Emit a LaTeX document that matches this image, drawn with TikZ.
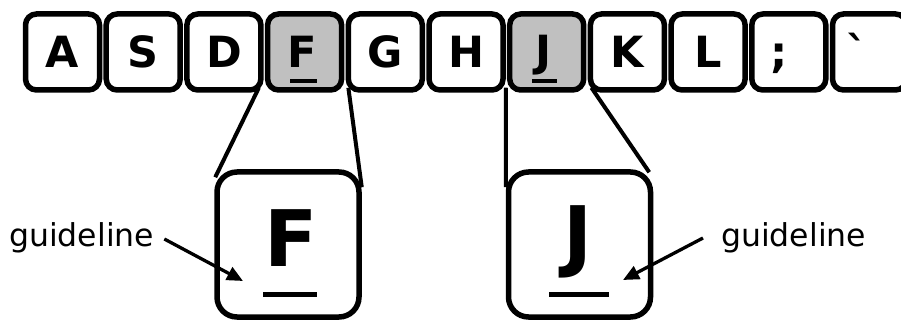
\documentclass[tikz,border=0pt]{standalone}
\usepackage{fontspec}
\setmainfont{DejaVu Sans}
\newfontfamily\keyfont{DejaVu Sans Bold}
\usetikzlibrary{arrows.meta,calc}
\definecolor{keygray}{HTML}{C0C0C0}
\begin{document}
\begin{tikzpicture}[x=1pt,y=-1pt,
  key/.style={draw,line width=5.5pt,rounded corners=11pt,minimum width=74pt,minimum height=76pt,inner sep=0pt,fill=white},
  bigkey/.style={draw,line width=5.5pt,rounded corners=20pt,minimum width=142pt,minimum height=145pt,inner sep=0pt,fill=white},
  letter/.style={anchor=base,inner sep=0pt,font=\keyfont\fontsize{43}{43}\selectfont},
  bigletter/.style={anchor=base,inner sep=0pt,font=\keyfont\fontsize{78}{78}\selectfont},
  link/.style={line width=4pt},
  guide/.style={fill=black,draw=none},
  note/.style={anchor=base west,inner sep=0pt,font=\fontsize{31.5}{31.5}\selectfont},
  pointer/.style={line width=3.3pt,-{Triangle[length=16pt,width=14pt]}}
]
\useasboundingbox (0,0) rectangle (901,320);
\begin{scope}
\clip (0,0) rectangle (901,320);
\path (143.2,52) coordinate (cS) (223.9,52) coordinate (cD)
      (304.6,52) coordinate (cF) (385.3,52) coordinate (cG)
      (466,52) coordinate (cH) (546.7,52) coordinate (cJ)
      (627.4,52) coordinate (cK) (708.1,52) coordinate (cL)
      (788.8,52) coordinate (cSemi) (869.5,52) coordinate (cGrave);
\node[bigkey,draw=none,fill=none] (bF) at (288,244.5) {};
\node[bigkey,draw=none,fill=none] (bJ) at (579.5,244.5) {};
\node[key,draw=none,fill=none] (kF) at (cF) {};
\node[key,draw=none,fill=none] (kJ) at (cJ) {};
% connecting lines (behind keys)
\draw[link] ($(kF.south west)+(-6,-5)$) -- ($(bF.north west)+(1,8)$);
\draw[link] ($(kF.south east)+(4,-5)$) -- ($(bF.north east)+(0,18)$);
\draw[link] ($(kJ.south west)+(-1,-5)$) -- ($(bJ.north west)+(0,18)$);
\draw[link] ($(kJ.south east)+(5,-5)$) -- ($(bJ.north east)+(-4,3)$);
% keys
\node[key] (kA) at (62.5,52) {};
\node[key] (kS) at (cS) {};
\node[key] (kD) at (cD) {};
\node[key,fill=keygray] (kF2) at (cF) {};
\node[key] (kG) at (cG) {};
\node[key] (kH) at (cH) {};
\node[key,fill=keygray] (kJ2) at (cJ) {};
\node[key] (kK) at (cK) {};
\node[key] (kL) at (cL) {};
\node[key] (kSemi) at (cSemi) {};
\node[key] (kGrave) at (cGrave) {};
\node[letter] (tA) at (62.5,68) {A};
\node[letter] (tS) at (143.2,68) {S};
\node[letter] (tD) at (223.9,68) {D};
\node[letter] (tF) at (302,68) {F};
\node[letter] (tG) at (385.3,68) {G};
\node[letter] (tH) at (466,68) {H};
\node[letter] (tJ) at (543,67) {J};
\node[letter] (tK) at (627.4,68) {K};
\node[letter] (tL) at (708.1,68) {L};
\node[letter] (tSemi) at (779,68) {;};
\node[letter] (tGrave) at (857,68) {\symbol{96}};
\fill[guide] (290,79) rectangle (317,83);
\fill[guide] (532,79) rectangle (557,83);
% big keys
\node[bigkey] (bF2) at (bF) {};
\node[bigkey] (bJ2) at (bJ) {};
\node[bigletter] (tbF) at (291,266) {F};
\node[bigletter] (tbJ) at (578,262) {J};
\fill[guide] (263,292) rectangle (317,297);
\fill[guide] (549,292) rectangle (609,297);
% notes
\node[note] (gl1) at (9,247) {guideline};
\node[note] (gl2) at (721,247) {guideline};
\coordinate (tipL) at (243,281);
\coordinate (tipR) at (623,280);
\draw[pointer] ($(gl1.base east)+(10,-8)$) -- (tipL);
\draw[pointer] ($(gl2.base west)+(-18,-9)$) -- (tipR);
\end{scope}
\end{tikzpicture}
\end{document}
